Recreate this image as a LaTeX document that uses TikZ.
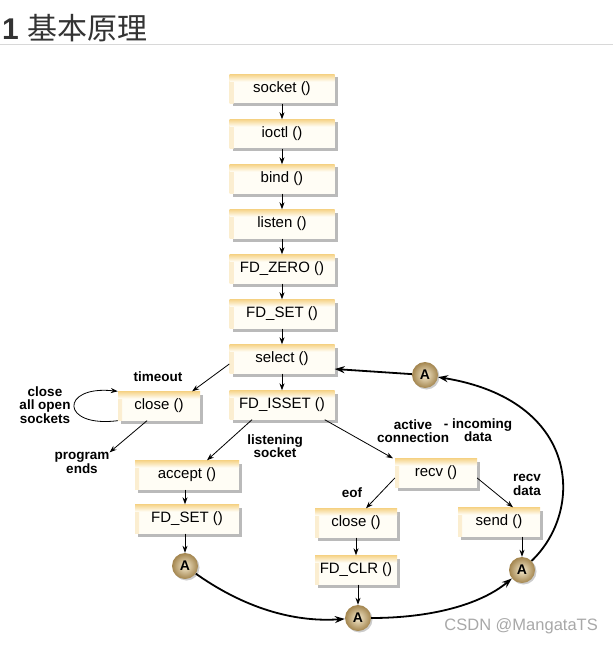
\documentclass[tikz,border=0pt]{standalone}
\usepackage{fontspec}
\setmainfont{Liberation Sans}
\newfontfamily\cjk{Noto Sans CJK SC}
\usepackage{tikz}
\usetikzlibrary{shadows,arrows.meta}

\definecolor{boxtop}{HTML}{F6D48A}
\definecolor{boxbody}{HTML}{FFFDF5}
\definecolor{ballin}{HTML}{F6EBCF}
\definecolor{ballout}{HTML}{A3854E}
\definecolor{rulegray}{HTML}{D8D8D8}
\definecolor{wmgray}{HTML}{A8A8A8}

\tikzset{
  fnbox/.style={fill=boxbody, minimum width=#1, minimum height=29pt, inner sep=0pt,
    font=\fontsize{15}{15}\selectfont,
    drop shadow={shadow xshift=3pt, shadow yshift=-3pt, fill=gray!90, opacity=0.6},
    path picture={
      \shade[left color=boxtop!40, right color=boxbody] (path picture bounding box.north west) rectangle ([xshift=4pt]path picture bounding box.south west);
      \shade[top color=boxtop, bottom color=boxbody] (path picture bounding box.north west) rectangle ([yshift=-7pt]path picture bounding box.north east);}},
  fnbox/.default=105pt,
  lbl/.style={font=\bfseries\fontsize{13.5}{13.5}\selectfont, align=center, inner sep=0pt},
  anode/.style={circle, minimum size=26pt, inner sep=0pt, inner color=ballin, outer color=ballout,
    drop shadow={shadow xshift=1.5pt, shadow yshift=-1.5pt, fill=gray, opacity=0.4},
    font=\bfseries\fontsize{14}{14}\selectfont},
  flowarrow/.style={-{Stealth[length=7pt,width=5pt]}, line width=0.8pt},
  looparrow/.style={-{Stealth[length=10pt,width=7pt]}, line width=1.8pt}
}

\begin{document}
\begin{tikzpicture}[x=1pt,y=-1pt]
                    \useasboundingbox (0,0) rectangle (613,647);
                    % heading
                    \node[anchor=base west, inner sep=0pt, text=black!80] (title) at (2,40) {\fontsize{30}{30}\selectfont\textbf{1} {\cjk 基本原理}};
                    \draw[rulegray, line width=1pt] (0,45) -- (613,45);

                    \node[fnbox] (socket) at (282,89) {socket ()};
                    \node[fnbox] (ioctl) at (282,134) {ioctl ()};
                    \node[fnbox] (bind) at (282,179) {bind ()};
                    \node[fnbox] (listen) at (282,224) {listen ()};
                    \node[fnbox] (fdzero) at (282,269) {FD\_ZERO ()};
                    \node[fnbox] (fdset) at (282,314) {FD\_SET ()};
                    \node[fnbox] (select) at (282,359) {select ()};
                    \node[fnbox] (fdisset) at (282,405) {FD\_ISSET ()};
                    \node[fnbox=82pt] (closeL) at (159,406) {close ()};
                    \node[fnbox=104pt] (accept) at (187,475) {accept ()};
                    \node[fnbox=104pt] (fdsetL) at (187,519) {FD\_SET ()};
                    \node[fnbox=82pt] (recv) at (436,473) {recv ()};
                    \node[fnbox=82pt] (closeM) at (356,523) {close ()};
                    \node[fnbox=82pt] (fdclr) at (356,570) {FD\_CLR ()};
                    \node[fnbox=82pt] (send) at (499,522) {send ()};

                    \node[anode] (A1) at (185,566) {A};
                    \node[anode] (Abot) at (358,618) {A};
                    \node[anode] (Aright) at (522,570) {A};
                    \node[anode] (Atop) at (425,375) {A};

                    \node[lbl] (timeout) at (158,377) {timeout};
                    \node[lbl] (closeall) at (45,405) {close\\all open\\sockets};
                    \node[lbl] (ends) at (82,463) {program\\ends};
                    \node[lbl] (listening) at (275,446) {listening\\socket};
                    \node[lbl] (active) at (413,431) {active\\connection};
                    \node[lbl] (incoming) at (478,430) {- incoming\\data};
                    \node[lbl] (eof) at (352,493) {eof};
                    \node[lbl] (recvdata) at (527,485) {recv\\data};

                    \node[anchor=east, inner sep=0pt, text=wmgray, font=\fontsize{16.5}{16.5}\selectfont] (mark) at (598,626) {CSDN @MangataTS};

                    \draw[flowarrow] (socket) -- (ioctl);
                    \draw[flowarrow] (ioctl) -- (bind);
                    \draw[flowarrow] (bind) -- (listen);
                    \draw[flowarrow] (listen) -- (fdzero);
                    \draw[flowarrow] (fdzero) -- (fdset);
                    \draw[flowarrow] (fdset) -- (select);
                    \draw[flowarrow] (select) -- (fdisset);
                    \draw[flowarrow] ([yshift=-5pt]select.west) -- ([xshift=-8pt]closeL.north east);
                    \draw[flowarrow] ([xshift=-12pt]closeL.south) -- (ends.north east);
                    \draw[flowarrow] (closeL.south west) .. controls (60,428) and (60,385) .. (closeL.north west);
                    \draw[flowarrow] ([xshift=-30pt]fdisset.south) -- ([xshift=20pt]accept.north);
                    \draw[flowarrow] ([xshift=-10pt]fdisset.south east) -- ([xshift=-43pt]recv.north);
                    \draw[flowarrow] (accept.south -| A1) -- (fdsetL.north -| A1);
                    \draw[flowarrow] (fdsetL.south -| A1) -- (A1);
                    \draw[flowarrow] ([yshift=-5pt]recv.west) -- ([xshift=10pt]closeM.north);
                    \draw[flowarrow] ([yshift=-5pt]recv.east) -- ([xshift=14pt]send.north);
                    \draw[flowarrow] (closeM) -- (fdclr);
                    \draw[flowarrow] (fdclr.south -| Abot) -- (Abot);
                    \draw[flowarrow] (send.south -| Aright) -- (Aright);

                    \draw[looparrow] (A1) .. controls (250,612) and (300,622) .. (Abot);
                    \draw[looparrow] (Abot) .. controls (430,618) and (480,605) .. (Aright);
                    \draw[looparrow] (Aright) .. controls (585,510) and (580,400) .. (Atop);
                    \draw[looparrow] (Atop) -- ([yshift=-10pt]select.east);
                 \end{tikzpicture}
\end{document}
